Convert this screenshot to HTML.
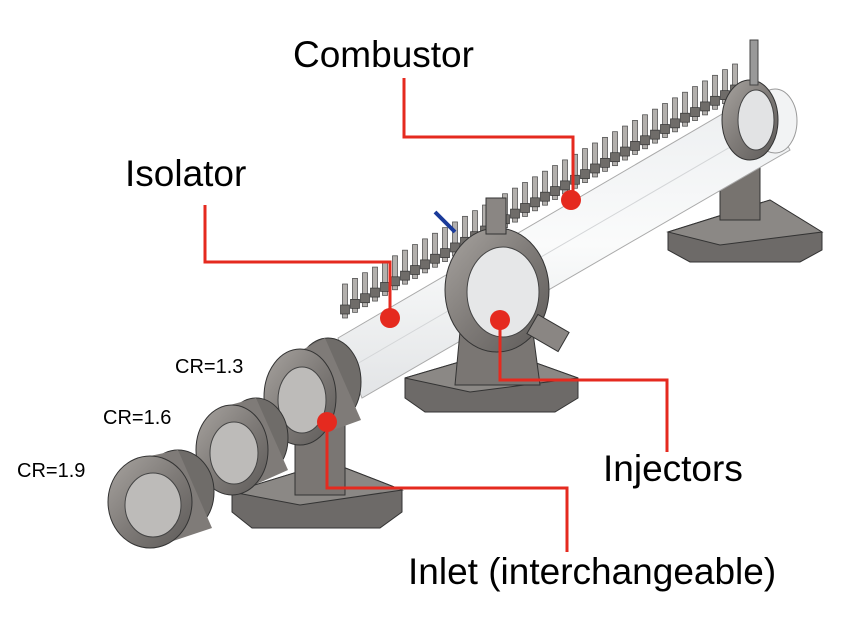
<!DOCTYPE html>
<html><head><meta charset="utf-8"><style>
html,body{margin:0;padding:0;background:#fff;}
svg{display:block;font-family:"Liberation Sans",Arial,sans-serif;}
</style></head><body>
<svg width="842" height="617" viewBox="0 0 842 617">
<defs>
<linearGradient id="metal" x1="0" y1="0" x2="1" y2="1">
<stop offset="0" stop-color="#a8a4a0"/><stop offset="0.5" stop-color="#7f7b78"/><stop offset="1" stop-color="#5d5a58"/>
</linearGradient>
<linearGradient id="tube" x1="0" y1="0" x2="0" y2="1">
<stop offset="0" stop-color="#eceef0"/><stop offset="0.5" stop-color="#fafbfb"/><stop offset="1" stop-color="#e2e4e6"/>
</linearGradient>
</defs>

<g>
<polygon points="668,232 770,200 822,232 822,250 800,262 690,262 668,250" fill="#6d6a68" stroke="#333" stroke-width="1"/>
<polygon points="668,232 770,200 822,232 720,245" fill="#8b8885" stroke="#333" stroke-width="1"/>
<rect x="720" y="150" width="40" height="70" fill="#77736f" stroke="#333"/>
</g>

<g>
<polygon points="338,338 760,92 790,150 362,398" fill="url(#tube)" stroke="#aaa" stroke-width="1"/>
<line x1="350" y1="368" x2="775" y2="121" stroke="#d4d6d8" stroke-width="1"/>
<ellipse cx="775" cy="121" rx="22" ry="32" fill="#f2f3f4" stroke="#999"/>
</g>

<g id="pins"></g>

<g>
<ellipse cx="750" cy="120" rx="28" ry="40" fill="url(#metal)" stroke="#333"/>
<ellipse cx="756" cy="120" rx="18" ry="30" fill="#e2e3e4" stroke="#444"/>
<rect x="750" y="40" width="8" height="45" fill="#999" stroke="#444"/>
</g>

<g>
<polygon points="405,378 500,350 578,378 578,398 555,412 425,412 405,398" fill="#6d6a68" stroke="#333"/>
<polygon points="405,378 500,350 578,378 470,392" fill="#8b8885" stroke="#333"/>
<polygon points="462,310 530,310 540,385 455,385" fill="#7a7673" stroke="#333"/>
</g>

<g>
<ellipse cx="497" cy="290" rx="52" ry="62" fill="url(#metal)" stroke="#333"/>
<ellipse cx="503" cy="292" rx="36" ry="45" fill="#e6e7e8" stroke="#444"/>
<rect x="486" y="198" width="20" height="36" fill="#8a8683" stroke="#333"/>
<rect x="530" y="322" width="36" height="22" fill="#8a8683" stroke="#333" transform="rotate(30 548 333)"/>
<line x1="435" y1="212" x2="455" y2="232" stroke="#1a3a9a" stroke-width="4"/>
</g>

<g>
<polygon points="232,492 330,462 402,490 402,512 380,528 252,528 232,512" fill="#6d6a68" stroke="#333"/>
<polygon points="232,492 330,462 402,490 300,505" fill="#8b8885" stroke="#333"/>
<rect x="295" y="410" width="50" height="85" fill="#7a7673" stroke="#333"/>
</g>

<g>
<ellipse cx="328" cy="382" rx="33" ry="44" fill="#6f6c69" stroke="#333"/>
<polygon points="298,352 325,338 361,420 300,442" fill="#7f7b78"/>
<ellipse cx="300" cy="397" rx="36" ry="48" fill="url(#metal)" stroke="#333"/>
<ellipse cx="302" cy="400" rx="24" ry="33" fill="#bdbbb9" stroke="#444"/>
</g>
<g>
<ellipse cx="256" cy="438" rx="32" ry="40" fill="#6f6c69" stroke="#333"/>
<polygon points="230,405 256,398 288,470 232,495" fill="#7f7b78"/>
<ellipse cx="232" cy="450" rx="36" ry="45" fill="url(#metal)" stroke="#333"/>
<ellipse cx="234" cy="453" rx="24" ry="31" fill="#bdbbb9" stroke="#444"/>
</g>
<g>
<ellipse cx="178" cy="492" rx="36" ry="42" fill="#6f6c69" stroke="#333"/>
<polygon points="150,456 178,450 212,528 152,548" fill="#7f7b78"/>
<ellipse cx="150" cy="502" rx="42" ry="46" fill="url(#metal)" stroke="#333"/>
<ellipse cx="153" cy="505" rx="28" ry="32" fill="#bdbbb9" stroke="#444"/>
</g>

<g fill="none" stroke="#e52a1f" stroke-width="3">
<polyline points="404,78 404,137 573,137 573,200"/>
<polyline points="205,205 205,262 390,262 390,318"/>
<polyline points="500,320 500,380 667,380 667,452"/>
<polyline points="327,422 327,488 567,488 567,552"/>
</g>
<g fill="#e52a1f">
<circle cx="571" cy="200" r="10"/>
<circle cx="390" cy="318" r="10"/>
<circle cx="500" cy="320" r="10"/>
<circle cx="327" cy="422" r="10"/>
</g>

<g fill="#000">
<text x="293" y="67" font-size="37">Combustor</text>
<text x="125" y="186" font-size="37">Isolator</text>
<text x="603" y="481" font-size="37">Injectors</text>
<text x="408" y="584" font-size="37">Inlet (interchangeable)</text>
<text x="175" y="373" font-size="20">CR=1.3</text>
<text x="103" y="424" font-size="20">CR=1.6</text>
<text x="17" y="477" font-size="20">CR=1.9</text>
</g>
</svg>
<script>
var g=document.getElementById('pins');
var n=40;
for(var i=0;i<n;i++){
  var t=i/(n-1);
  var x=345+t*(735-345), y=318+t*(98-318);
  var p=document.createElementNS('http://www.w3.org/2000/svg','g');
  
  
  p.innerHTML='<rect x="'+(x-2.5)+'" y="'+(y-34)+'" width="5" height="34" fill="#b3b0ad" stroke="#444" stroke-width="0.7"/>'+
    '<rect x="'+(x-4.5)+'" y="'+(y-13)+'" width="9" height="9" fill="#6f6c69" stroke="#333" stroke-width="0.7"/>';
  g.appendChild(p);
}
</script>
</body></html>
